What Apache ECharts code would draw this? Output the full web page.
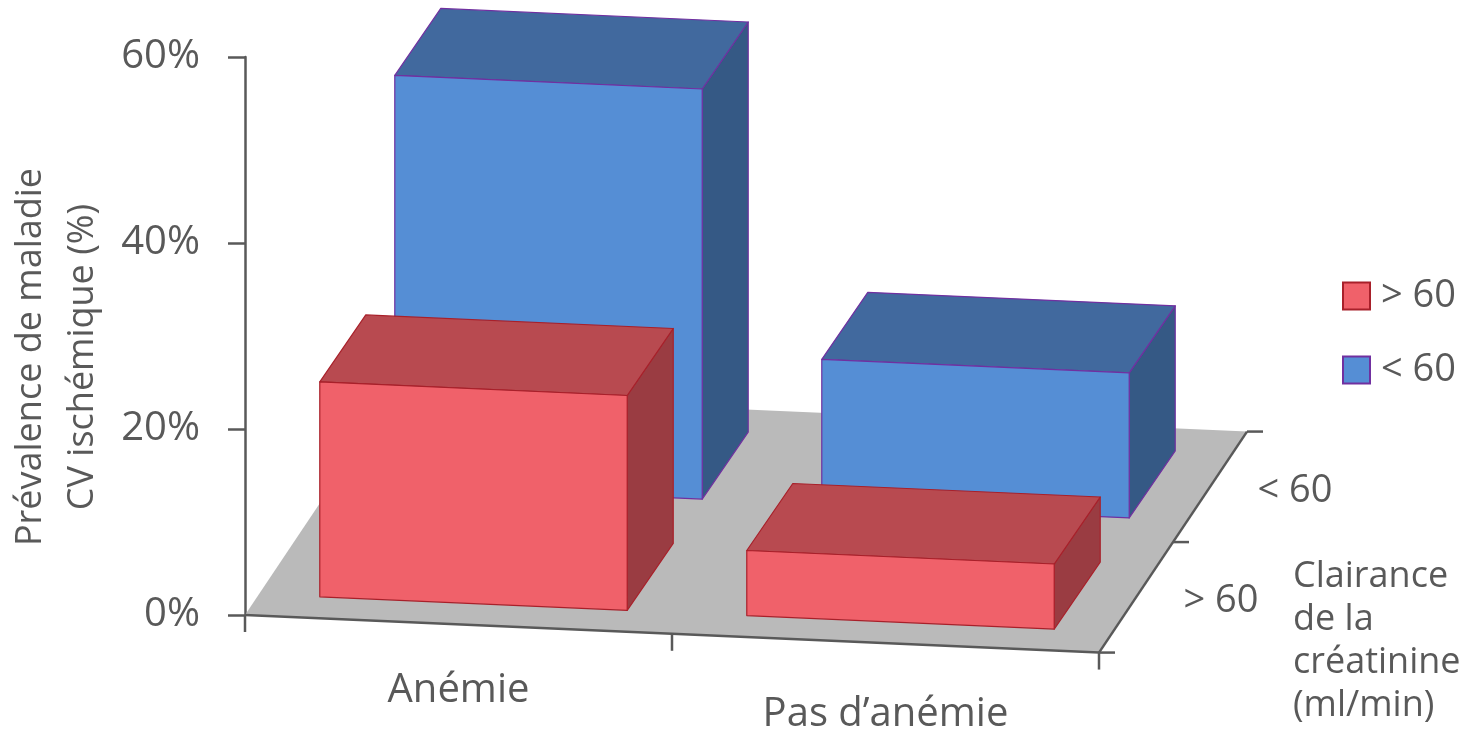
<!DOCTYPE html>
<html>
<head>
<meta charset="utf-8">
<script src="https://cdn.jsdelivr.net/npm/echarts@6/dist/echarts.min.js"></script>
<style>
  html, body { margin: 0; padding: 0; background: #fff; }
  #chart { width: 1472px; height: 731px; }
</style>
</head>
<body>
<div id="chart"></div>
<script>
// données
var categories = ['Anémie', 'Pas d\u2019anémie'];
var depthLabels = ['> 60', '< 60'];
var valuesAbove60 = [23.1, 7.0];    // clairance > 60 (rangée avant)
var valuesBelow60 = [44.1, 15.6];   // clairance < 60 (rangée arrière)
var yTicks = [0, 20, 40, 60];

// mise en page pseudo 3D
var SLOPE = 0.044;                     // pente des arêtes horizontales
var BOX_DEPTH = [46, -67];             // profondeur d'une boîte
var ROW_SHIFT = [[15, -21.5], [90, -136]];  // avant / arrière
var BAR_W = 0.72;                      // part de la bande
var FLOOR_DEPTH = [148, -221];
var GREY = '#595959';
var FONT = '"Open Sans", "DejaVu Sans", sans-serif';

var palette = [
    { front: '#F0616A', top: '#B84A50', side: '#9A3C42', stroke: '#A8202A' },
    { front: '#558ED5', top: '#41699E', side: '#355985', stroke: '#7030A0' }
];

var chart = echarts.init(document.getElementById('chart'));

function boxRenderer(row) {
    var c = palette[row];
    return function (params, api) {
        var ci = api.value(0);
        var base = api.coord([ci, 0]);
        var top = api.coord([ci, api.value(1)]);
        var w = api.size([1, 0])[0] * BAR_W;
        var sh = ROW_SHIFT[row];
        var x0 = params.coordSys.x;
        var xl = base[0] + sh[0] - w / 2, xr = xl + w;
        var h = base[1] - top[1];
        var bl = [xl, base[1] + SLOPE * (xl - x0) + sh[1]];
        var br = [xr, base[1] + SLOPE * (xr - x0) + sh[1]];
        var tl = [xl, bl[1] - h], tr = [xr, br[1] - h];
        var d = BOX_DEPTH;
        var tl2 = [tl[0] + d[0], tl[1] + d[1]];
        var tr2 = [tr[0] + d[0], tr[1] + d[1]];
        var br2 = [br[0] + d[0], br[1] + d[1]];
        var st = { stroke: c.stroke, lineWidth: 1.2, lineJoin: 'round' };
        return {
            type: 'group',
            children: [
                { type: 'polygon', shape: { points: [br, tr, tr2, br2] }, style: Object.assign({ fill: c.side }, st) },
                { type: 'polygon', shape: { points: [tl, tl2, tr2, tr] }, style: Object.assign({ fill: c.top }, st) },
                { type: 'polygon', shape: { points: [bl, tl, tr, br] }, style: Object.assign({ fill: c.front }, st) }
            ]
        };
    };
}

function floorRenderer(params, api) {
    var cs = params.coordSys;
    var y0 = api.coord([0, 0])[1];
    var fl = [cs.x, y0];
    var fr = [cs.x + cs.width, y0 + SLOPE * cs.width];
    var br = [fr[0] + FLOOR_DEPTH[0], fr[1] + FLOOR_DEPTH[1]];
    var bl = [fl[0] + FLOOR_DEPTH[0], fl[1] + FLOOR_DEPTH[1]];
    var line = { stroke: GREY, lineWidth: 2.5 };
    var children = [
        { type: 'polygon', shape: { points: [fl, fr, br, bl] }, style: { fill: '#BABABA' } },
        { type: 'line', shape: { x1: fl[0], y1: fl[1], x2: fr[0], y2: fr[1] }, style: line },
        { type: 'line', shape: { x1: fr[0], y1: fr[1], x2: br[0], y2: br[1] }, style: line }
    ];
    // graduations de l'axe des catégories (limites des bandes)
    for (var i = 0; i <= categories.length; i++) {
        var x = cs.x + cs.width * i / categories.length;
        var y = y0 + SLOPE * (x - cs.x);
        children.push({ type: 'line', shape: { x1: x, y1: y, x2: x, y2: y + 17 }, style: line });
    }
    // axe de profondeur
    for (var j = 0; j <= depthLabels.length; j++) {
        var t = j / depthLabels.length;
        var px = fr[0] + FLOOR_DEPTH[0] * t, py = fr[1] + FLOOR_DEPTH[1] * t;
        children.push({ type: 'line', shape: { x1: px, y1: py, x2: px + 16, y2: py }, style: line });
    }
    depthLabels.forEach(function (lab, k) {
        var t = (k + 0.5) / depthLabels.length;
        children.push({
            type: 'text',
            x: fr[0] + FLOOR_DEPTH[0] * t + 85,
            y: fr[1] + FLOOR_DEPTH[1] * t + 4,
            style: { text: lab, fill: GREY, fontSize: 38, fontFamily: FONT, align: 'center', verticalAlign: 'middle' }
        });
    });
    children.push({
        type: 'text',
        x: 1293, y: 555,
        style: {
            text: 'Clairance\nde la\ncréatinine\n(ml/min)',
            fill: GREY, fontSize: 36, lineHeight: 43, fontFamily: FONT,
            align: 'left', verticalAlign: 'top'
        }
    });
    return { type: 'group', children: children };
}

var option = {
    animation: false,
    backgroundColor: '#fff',
    textStyle: { fontFamily: FONT },
    grid: { left: 245, top: 57, bottom: 116, width: 854, containLabel: false, outerBoundsMode: 'none' },
    legend: {
        orient: 'vertical',
        left: 1337,
        top: 272,
        itemWidth: 27,
        itemHeight: 27,
        itemGap: 36,
        icon: 'rect',
        textStyle: { color: GREY, fontSize: 38, lineHeight: 38, fontFamily: FONT, padding: [0, 0, 0, 6] },
        data: [
            { name: '> 60', itemStyle: { color: palette[0].front, borderColor: palette[0].stroke, borderWidth: 2 } },
            { name: '< 60', itemStyle: { color: palette[1].front, borderColor: palette[1].stroke, borderWidth: 2 } }
        ]
    },
    xAxis: {
        type: 'category',
        data: categories,
        axisLine: { show: false },
        axisTick: { show: false },
        axisLabel: {
            interval: 0,
            hideOverlap: false,
            margin: 56,
            color: GREY,
            fontSize: 40,
            fontFamily: FONT,
            formatter: function (v, i) { return i === 0 ? '{a|' + v + '}' : '{b|' + v + '}'; },
            rich: {
                a: { fontSize: 40, color: GREY, fontFamily: FONT, lineHeight: 40 },
                b: { fontSize: 40, color: GREY, fontFamily: FONT, lineHeight: 40, padding: [48, 0, 0, 0] }
            }
        }
    },
    yAxis: {
        type: 'value',
        min: yTicks[0],
        max: yTicks[yTicks.length - 1],
        interval: 20,
        name: 'Prévalence de maladie\nCV ischémique (%)',
        nameLocation: 'middle',
        nameRotate: 90,
        nameGap: 136,
        nameTextStyle: { color: GREY, fontSize: 36, lineHeight: 52, fontFamily: FONT, padding: [0, 42, 0, 0] },
        splitLine: { show: false },
        axisLine: { show: true, lineStyle: { color: GREY, width: 2.5 } },
        axisTick: { show: true, length: 17, lineStyle: { color: GREY, width: 2.5 } },
        axisLabel: { margin: 45, color: GREY, fontSize: 40, fontFamily: FONT, formatter: '{value}%' }
    },
    series: [
        {
            type: 'custom',
            name: 'sol',
            silent: true,
            z: 1,
            renderItem: floorRenderer,
            data: [[0, 0]]
        },
        {
            type: 'custom',
            name: '< 60',
            z: 2,
            itemStyle: { color: palette[1].front, borderColor: palette[1].stroke, borderWidth: 2 },
            renderItem: boxRenderer(1),
            data: valuesBelow60.map(function (v, i) { return [i, v]; })
        },
        {
            type: 'custom',
            name: '> 60',
            z: 3,
            itemStyle: { color: palette[0].front, borderColor: palette[0].stroke, borderWidth: 2 },
            renderItem: boxRenderer(0),
            data: valuesAbove60.map(function (v, i) { return [i, v]; })
        }
    ]
};

chart.setOption(option);
</script>
</body>
</html>
